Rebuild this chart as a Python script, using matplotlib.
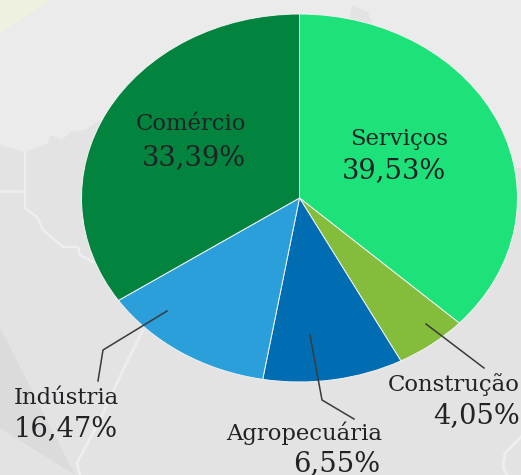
#!/usr/bin/env python3

import matplotlib
matplotlib.use('Agg')
from matplotlib import pyplot as plt

WIDTH = 521
HEIGHT = 475

sectors = ['Serviços', 'Construção', 'Agropecuária', 'Indústria', 'Comércio']
percent_labels = ['39,53%', '4,05%', '6,55%', '16,47%', '33,39%']
# slice sizes as drawn in the picture, they differ from the printed labels
drawn_shares = [36.9, 5.4, 10.4, 12.9, 34.4]
colors = ['#1de27a', '#84bd3c', '#006db3', '#2a9fd9', '#03843e']

TEXT_COLOR = '#222226'
FONT = 'DejaVu Serif'

fig = plt.figure(figsize=(WIDTH / 100, HEIGHT / 100), dpi=100)

# background map, in pixel coordinates
bg = fig.add_axes([0, 0, 1, 1])
bg.set_xlim(0, WIDTH)
bg.set_ylim(HEIGHT, 0)
bg.axis('off')
bg.add_patch(plt.Rectangle((0, 0), WIDTH, HEIGHT, color='#e3e3e3', lw=0))
light = [(0, 0), (521, 0), (521, 168), (300, 168), (250, 130), (100, 120), (85, 130), (70, 132),
         (62, 140), (50, 135), (48, 143), (25, 152), (0, 145)]
bg.fill(*zip(*light), color='#ebebeb', lw=0)
bg.fill([0, 52, 0], [0, 0, 33], color='#eef0e0', lw=0)
bg.fill([0, 75, 0], [328, 475, 428], color='#dbdbdb', lw=0)
bg.fill([352, 368, 372, 350], [5, 12, 24, 20], color='#e3e3e3', lw=0)
road = '#eeeeee'
bg.plot([25, 25, 37, 43, 63, 78, 80, 93], [152, 208, 217, 230, 247, 247, 255, 262], color=road, lw=1.8)
bg.plot([0, 25], [191, 191], color=road, lw=1.8)
bg.plot([143, 123, 100, 77, 80], [330, 370, 420, 463, 475], color=road, lw=2)
bg.plot([521, 505, 503, 507], [437, 453, 467, 475], color=road, lw=2)

ax = fig.add_axes([81.5 / WIDTH, 1 - 382 / HEIGHT, 436 / WIDTH, 368 / HEIGHT])
ax.pie(drawn_shares, colors=colors, startangle=90, counterclock=False, radius=1,
       wedgeprops=dict(edgecolor='#f2f2f2', linewidth=0.7))
ax.set_aspect('auto')
ax.set_xlim(-1, 1)
ax.set_ylim(-1, 1)

over = fig.add_axes([0, 0, 1, 1])
over.set_xlim(0, WIDTH)
over.set_ylim(HEIGHT, 0)
over.axis('off')

# leader lines, x and y in pixels
leaders = [
    None,
    ([426, 484], [324, 368]),
    ([310, 322, 354], [335, 400, 419]),
    ([167, 103, 98], [311, 350, 381]),
    None,
]
name_pos = [(399, 139), (454, 385), (304, 433), (66, 398), (191, 124)]
value_pos = [(394, 171), (476, 416), (337, 464), (66, 429), (194, 158)]

for line in leaders:
    if line is not None:
        over.plot(line[0], line[1], color='#3a3a3a', lw=1.1)

for name, value, np_, vp in zip(sectors, percent_labels, name_pos, value_pos):
    over.text(np_[0], np_[1], name, family=FONT, fontsize=16.4, color=TEXT_COLOR, ha='center', va='center')
    over.text(vp[0], vp[1], value, family=FONT, fontsize=19.6, color=TEXT_COLOR, ha='center', va='center')

fig.savefig('out.png', dpi=100)
